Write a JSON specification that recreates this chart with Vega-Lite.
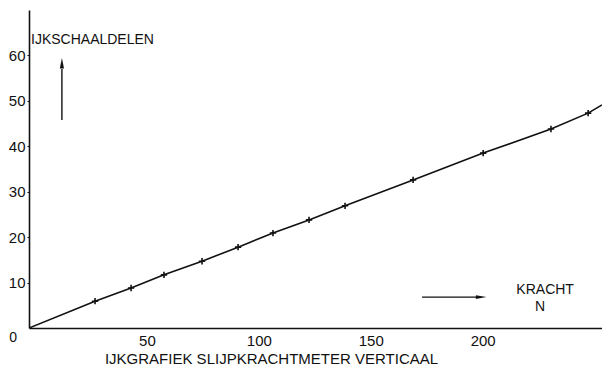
{
  "$schema": "https://vega.github.io/schema/vega-lite/v6.json",
  "width": 573,
  "height": 318,
  "autosize": {"type": "none"},
  "padding": {"left": 29, "top": 10, "right": 0, "bottom": 41},
  "background": "white",
  "config": {
    "view": {"stroke": null},
    "font": "Liberation Sans",
    "axis": {"domainColor": "#111", "domainWidth": 1.6, "grid": false, "labelColor": "#111", "labelFont": "Liberation Sans", "labelFontSize": 15, "tickColor": "#111"}
  },
  "datasets": {
    "pts": [
      {"kracht": 29.5, "schaal": 5.9},
      {"kracht": 45.6, "schaal": 8.8},
      {"kracht": 60.3, "schaal": 11.7},
      {"kracht": 77.3, "schaal": 14.7},
      {"kracht": 93.4, "schaal": 17.8},
      {"kracht": 109.0, "schaal": 20.9},
      {"kracht": 125.1, "schaal": 23.8},
      {"kracht": 141.2, "schaal": 26.9},
      {"kracht": 171.6, "schaal": 32.6},
      {"kracht": 202.9, "schaal": 38.5},
      {"kracht": 233.2, "schaal": 43.8},
      {"kracht": 249.8, "schaal": 47.3}
    ],
    "curve": [
      {"kracht": 0, "schaal": 0},
      {"kracht": 29.5, "schaal": 5.9},
      {"kracht": 45.6, "schaal": 8.8},
      {"kracht": 60.3, "schaal": 11.7},
      {"kracht": 77.3, "schaal": 14.7},
      {"kracht": 93.4, "schaal": 17.8},
      {"kracht": 109.0, "schaal": 20.9},
      {"kracht": 125.1, "schaal": 23.8},
      {"kracht": 141.2, "schaal": 26.9},
      {"kracht": 171.6, "schaal": 32.6},
      {"kracht": 202.9, "schaal": 38.5},
      {"kracht": 233.2, "schaal": 43.8},
      {"kracht": 249.8, "schaal": 47.3},
      {"kracht": 256, "schaal": 49.1}
    ],
    "labelsLeft": [
      {"kracht": 0.9, "schaal": 63.4, "txt": "IJKSCHAALDELEN"}
    ],
    "labelsCenter": [
      {"kracht": 230.6, "schaal": 8.4, "txt": "KRACHT"},
      {"kracht": 228.3, "schaal": 4.6, "txt": "N"},
      {"kracht": -7.1, "schaal": -2.2, "txt": "0"}
    ],
    "arrowsV": [{"kracht": 14.7, "s0": 45.8, "s1": 57.0}],
    "arrowsH": [{"k0": 175.6, "k1": 201.0, "schaal": 6.8}],
    "headsUp": [{"kracht": 14.7, "schaal": 58.3}],
    "headsRight": [{"kracht": 202.0, "schaal": 6.8}]
  },
  "layer": [
    {
      "data": {"name": "curve"},
      "mark": {"type": "line", "color": "#111", "strokeWidth": 1.6, "clip": true},
      "encoding": {
        "x": {
          "field": "kracht", "type": "quantitative",
          "scale": {"domain": [0, 256], "nice": false},
          "axis": {
            "values": [50, 100, 150, 200],
            "tickSize": 0, "labelPadding": 5, "labelOffset": 6,
            "title": "IJKGRAFIEK  SLIJPKRACHTMETER  VERTICAAL",
            "titleFont": "Liberation Sans", "titleFontSize": 15, "titleFontWeight": "normal", "titleColor": "#111",
            "titleX": 242, "titleY": 30, "titleAlign": "center", "titleBaseline": "middle", "titleAnchor": null
          }
        },
        "y": {
          "field": "schaal", "type": "quantitative",
          "scale": {"domain": [0, 70], "nice": false},
          "axis": {
            "values": [10, 20, 30, 40, 50, 60],
            "tickSize": 2, "labelPadding": 2, "title": null
          }
        }
      }
    },
    {
      "data": {"name": "pts"},
      "mark": {"type": "point", "shape": "M-1,0L1,0M0,-1L0,1", "size": 40, "filled": false, "stroke": "#111", "strokeWidth": 1.6, "opacity": 1},
      "encoding": {
        "x": {"field": "kracht", "type": "quantitative"},
        "y": {"field": "schaal", "type": "quantitative"}
      }
    },
    {
      "data": {"name": "labelsLeft"},
      "mark": {"type": "text", "fontSize": 14, "font": "Liberation Sans", "color": "#111", "baseline": "middle", "align": "left"},
      "encoding": {
        "x": {"field": "kracht", "type": "quantitative"},
        "y": {"field": "schaal", "type": "quantitative"},
        "text": {"field": "txt"}
      }
    },
    {
      "data": {"name": "labelsCenter"},
      "mark": {"type": "text", "fontSize": 14, "font": "Liberation Sans", "color": "#111", "baseline": "middle", "align": "center"},
      "encoding": {
        "x": {"field": "kracht", "type": "quantitative"},
        "y": {"field": "schaal", "type": "quantitative"},
        "text": {"field": "txt"}
      }
    },
    {
      "data": {"name": "arrowsV"},
      "mark": {"type": "rule", "color": "#111", "strokeWidth": 1.4},
      "encoding": {
        "x": {"field": "kracht", "type": "quantitative"},
        "y": {"field": "s0", "type": "quantitative"},
        "y2": {"field": "s1"}
      }
    },
    {
      "data": {"name": "arrowsH"},
      "mark": {"type": "rule", "color": "#111", "strokeWidth": 1.4},
      "encoding": {
        "x": {"field": "k0", "type": "quantitative"},
        "x2": {"field": "k1"},
        "y": {"field": "schaal", "type": "quantitative"}
      }
    },
    {
      "data": {"name": "headsUp"},
      "mark": {"type": "point", "shape": "M0,-1L0.4,1L-0.4,1Z", "size": 110, "filled": true, "color": "#111", "opacity": 1},
      "encoding": {
        "x": {"field": "kracht", "type": "quantitative"},
        "y": {"field": "schaal", "type": "quantitative"}
      }
    },
    {
      "data": {"name": "headsRight"},
      "mark": {"type": "point", "shape": "M1,0L-1,0.35L-1,-0.35Z", "size": 110, "filled": true, "color": "#111", "opacity": 1},
      "encoding": {
        "x": {"field": "kracht", "type": "quantitative"},
        "y": {"field": "schaal", "type": "quantitative"}
      }
    }
  ]
}
